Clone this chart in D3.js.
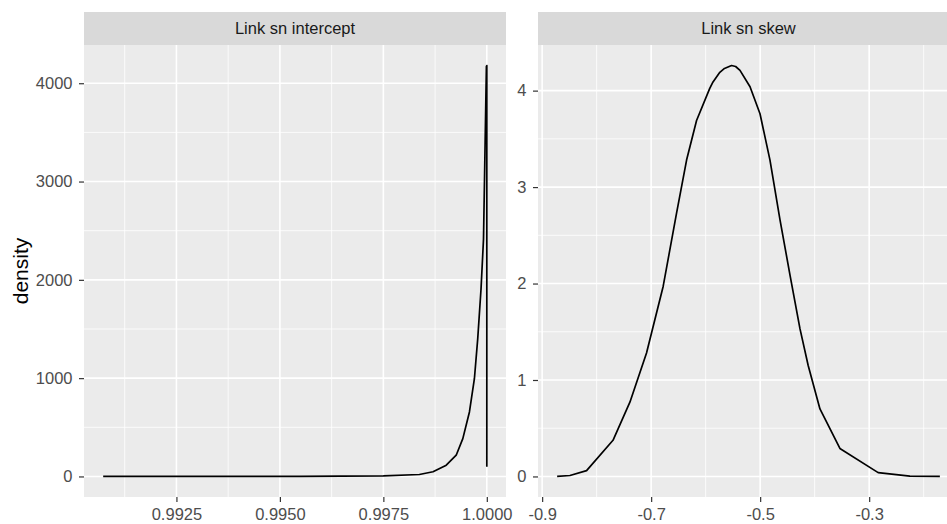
<!DOCTYPE html>
<html lang="en">
<head>
  <meta charset="utf-8">
  <title>Link sn density</title>
  <script src="https://d3js.org/d3.v7.min.js"></script>
  <style>
    body { margin: 0; background: #fff; }
    text { font-family: "Liberation Sans", Arial, sans-serif; }
  </style>
</head>
<body>
<script>
  // facet labels
  var panelTitles = ["Link sn intercept", "Link sn skew"];

  // left facet: density of the intercept link
  var interceptX = [0.99073, 0.99300, 0.99548, 0.99750, 0.99837, 0.99870, 0.99902, 0.99926,
                    0.99942, 0.99958, 0.99970, 0.99978, 0.99986, 0.99992, 0.99999, 1.00000, 1.00000];
  var interceptY = [0, 0, 0, 5, 20, 48, 115, 216,
                    385, 656, 994, 1400, 1907, 2414, 4172, 4180, 98];

  // right facet: density of the skew link
  var skewX = [-0.8725, -0.849, -0.8185, -0.770, -0.739, -0.7085, -0.678, -0.6534, -0.635,
               -0.6167, -0.5927, -0.5865, -0.574, -0.5655, -0.5525, -0.545, -0.537, -0.5186,
               -0.5003, -0.482, -0.4636, -0.445, -0.4269, -0.4119, -0.3903, -0.3537,
               -0.2835, -0.2253, -0.1703];
  var skewY = [0.0, 0.01, 0.06, 0.375, 0.77, 1.28, 1.97, 2.73, 3.28,
               3.69, 4.02, 4.09, 4.19, 4.23, 4.26, 4.25, 4.21, 4.04,
               3.76, 3.28, 2.66, 2.08, 1.53, 1.15, 0.70, 0.29,
               0.04, 0.003, 0.0];

  // tick labels
  var interceptXTicks = [0.9925, 0.9950, 0.9975, 1.0000];
  var interceptXMinor = [0.99125, 0.99375, 0.99625, 0.99875];
  var interceptYTicks = [0, 1000, 2000, 3000, 4000];
  var interceptYMinor = [500, 1500, 2500, 3500];
  var skewXTicks = [-0.9, -0.7, -0.5, -0.3];
  var skewXMinor = [-0.8, -0.6, -0.4, -0.2];
  var skewYTicks = [0, 1, 2, 3, 4];
  var skewYMinor = [0.5, 1.5, 2.5, 3.5];

  var W = 947, H = 524;
  var stripTop = 12, panelTop = 45, panelBottom = 497;

  var svg = d3.select("body").append("svg")
      .attr("width", W).attr("height", H);

  // ggplot style 5% expansion on both sides
  function expand(ext) {
    var pad = (ext[1] - ext[0]) * 0.05;
    return [ext[0] - pad, ext[1] + pad];
  }

  var panels = [
    { title: panelTitles[0], xs: interceptX, ys: interceptY, left: 84, right: 506,
      xt: interceptXTicks, xm: interceptXMinor, yt: interceptYTicks, ym: interceptYMinor,
      xf: function(d) { return d.toFixed(4); }, yf: function(d) { return d; } },
    { title: panelTitles[1], xs: skewX, ys: skewY, left: 538, right: 959,
      xt: skewXTicks, xm: skewXMinor, yt: skewYTicks, ym: skewYMinor,
      xf: function(d) { return d.toFixed(1); }, yf: function(d) { return d; } }
  ];

  var defs = svg.append("defs");

  panels.forEach(function(p, i) {
    var x = d3.scaleLinear().domain(expand(d3.extent(p.xs))).range([p.left, p.right]);
    var y = d3.scaleLinear().domain(expand([0, d3.max(p.ys)])).range([panelBottom, panelTop]);

    defs.append("clipPath").attr("id", "clip" + i)
      .append("rect").attr("x", p.left).attr("y", panelTop)
      .attr("width", p.right - p.left).attr("height", panelBottom - panelTop);

    var g = svg.append("g");

    // strip
    g.append("rect")
        .attr("x", p.left).attr("y", stripTop)
        .attr("width", p.right - p.left).attr("height", panelTop - stripTop)
        .attr("fill", "#d9d9d9");
    g.append("text")
        .attr("x", (p.left + p.right) / 2).attr("y", (stripTop + panelTop) / 2)
        .attr("dy", "0.35em")
        .attr("text-anchor", "middle")
        .attr("font-size", 16.5)
        .attr("fill", "#1a1a1a")
        .text(p.title);

    // panel background
    g.append("rect")
        .attr("x", p.left).attr("y", panelTop)
        .attr("width", p.right - p.left).attr("height", panelBottom - panelTop)
        .attr("fill", "#ebebeb");

    var grid = g.append("g").attr("clip-path", "url(#clip" + i + ")");
    // minor grid
    grid.selectAll(".mx").data(p.xm).enter().append("line")
        .attr("x1", x).attr("x2", x).attr("y1", panelTop).attr("y2", panelBottom)
        .attr("stroke", "#fff").attr("stroke-width", 0.8);
    grid.selectAll(".my").data(p.ym).enter().append("line")
        .attr("x1", p.left).attr("x2", p.right).attr("y1", y).attr("y2", y)
        .attr("stroke", "#fff").attr("stroke-width", 0.8);
    // major grid
    grid.selectAll(".gx").data(p.xt).enter().append("line")
        .attr("x1", x).attr("x2", x).attr("y1", panelTop).attr("y2", panelBottom)
        .attr("stroke", "#fff").attr("stroke-width", 1.6);
    grid.selectAll(".gy").data(p.yt).enter().append("line")
        .attr("x1", p.left).attr("x2", p.right).attr("y1", y).attr("y2", y)
        .attr("stroke", "#fff").attr("stroke-width", 1.6);

    // density line
    var pts = p.xs.map(function(v, k) { return [v, p.ys[k]]; });
    grid.append("path")
        .datum(pts)
        .attr("fill", "none")
        .attr("stroke", "#000")
        .attr("stroke-width", 1.7)
        .attr("stroke-linejoin", "round")
        .attr("d", d3.line().x(function(d) { return x(d[0]); }).y(function(d) { return y(d[1]); }));

    // axes
    var ax = g.append("g").attr("transform", "translate(0," + panelBottom + ")")
        .call(d3.axisBottom(x).tickValues(p.xt).tickFormat(p.xf).tickSize(5).tickPadding(6));
    var ay = g.append("g").attr("transform", "translate(" + p.left + ",0)")
        .call(d3.axisLeft(y).tickValues(p.yt).tickFormat(p.yf).tickSize(5).tickPadding(6.5));
    [ax, ay].forEach(function(a) {
      a.select(".domain").remove();
      a.selectAll(".tick line").attr("stroke", "#333").attr("stroke-width", 1.2);
      a.selectAll(".tick text").attr("fill", "#4d4d4d").attr("font-size", 16.5)
        .attr("font-family", "Liberation Sans, Arial, sans-serif");
    });
  });

  // y axis title
  svg.append("text")
      .attr("transform", "translate(28," + (panelTop + panelBottom) / 2 + ") rotate(-90)")
      .attr("text-anchor", "middle")
      .attr("font-size", 21)
      .attr("fill", "#000")
      .text("density");
</script>
</body>
</html>
